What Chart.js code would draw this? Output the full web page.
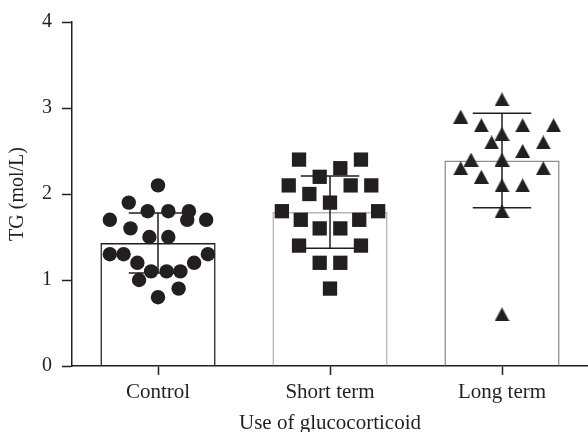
<!DOCTYPE html>
<html>
<head>
<meta charset="utf-8">
<script src="https://cdn.jsdelivr.net/npm/chart.js@4"></script>
<style>
  html, body { margin: 0; padding: 0; background: #fff; }
  #wrap { width: 588px; height: 432px; }
</style>
</head>
<body>
<div id="wrap"><canvas id="tgChart"></canvas></div>
<script>
// groups and summary values
const groups = ['Control', 'Short term', 'Long term'];
const means = [1.43, 1.79, 2.39];
const sds = [0.35, 0.42, 0.55];
const yTicks = [0, 1, 2, 3, 4];

// individual values per group, with their horizontal spread (in category widths)
const controlValues = [2.1, 1.9, 1.8, 1.8, 1.8, 1.7, 1.7, 1.7, 1.6, 1.5, 1.5, 1.3, 1.3, 1.3, 1.2, 1.2, 1.1, 1.1, 1.1, 1.0, 0.9, 0.8];
const controlSpread = [0, -0.17, -0.06, 0.06, 0.18, -0.28, 0.17, 0.28, -0.16, -0.05, 0.06, -0.28, -0.2, 0.29, -0.12, 0.21, -0.04, 0.05, 0.13, -0.11, 0.12, 0];
const shortValues = [2.4, 2.4, 2.3, 2.2, 2.1, 2.1, 2.1, 2.0, 1.9, 1.8, 1.8, 1.7, 1.7, 1.6, 1.6, 1.4, 1.4, 1.2, 1.2, 0.9];
const shortSpread = [-0.18, 0.18, 0.06, -0.06, -0.24, 0.12, 0.24, -0.12, 0, -0.28, 0.28, -0.17, 0.17, -0.06, 0.06, -0.18, 0.18, -0.06, 0.06, 0];
const longValues = [3.1, 2.9, 2.8, 2.8, 2.8, 2.7, 2.6, 2.6, 2.5, 2.4, 2.4, 2.3, 2.3, 2.2, 2.1, 2.1, 1.8, 0.6];
const longSpread = [0, -0.24, -0.12, 0.12, 0.3, 0, -0.06, 0.24, 0.12, -0.18, 0, -0.24, 0.24, -0.12, 0, 0.12, 0, 0];

const ink = '#231f20';
const fontFamily = '"Liberation Serif", "DejaVu Serif", serif';

const toPoints = (values, spread, idx) => values.map((v, i) => ({ x: idx + spread[i], y: v }));

// GraphPad style triangle, centred on its box
const triangle = document.createElement('canvas');
triangle.width = 15;
triangle.height = 14;
(() => {
    const c = triangle.getContext('2d');
    c.fillStyle = ink;
    c.beginPath();
    c.moveTo(0, 14);
    c.lineTo(7.5, 0);
    c.lineTo(15, 14);
    c.closePath();
    c.fill();
})();

// mean +/- SD, drawn after the bars and under the dots
const errorBars = {
    id: 'errorBars',
    afterDatasetDraw(chart, args) {
        if (args.index !== 0) return;
        const ctx = chart.ctx;
        const xs = chart.scales.x2;
        const ys = chart.scales.y;
        ctx.save();
        ctx.strokeStyle = ink;
        ctx.lineWidth = 1.5;
        means.forEach((m, i) => {
            const cx = xs.getPixelForValue(i);
            const left = xs.getPixelForValue(i - 0.17);
            const right = xs.getPixelForValue(i + 0.17);
            const hi = ys.getPixelForValue(m + sds[i]);
            const lo = ys.getPixelForValue(m - sds[i]);
            ctx.beginPath();
            ctx.moveTo(cx, hi); ctx.lineTo(cx, lo);
            ctx.moveTo(left, hi); ctx.lineTo(right, hi);
            ctx.moveTo(left, lo); ctx.lineTo(right, lo);
            ctx.stroke();
        });
        ctx.restore();
    }
};

const dotStyle = {
    xAxisID: 'x2',
    backgroundColor: ink,
    borderWidth: 0,
    order: 1
};

new Chart(document.getElementById('tgChart').getContext('2d'), {
    type: 'bar',
    data: {
        labels: groups,
        datasets: [{
            data: means,
            backgroundColor: 'rgba(255,255,255,0)',
            borderColor: [ink, '#b5b5b5', '#8e8e8e'],
            borderWidth: 1.5,
            grouped: false,
            categoryPercentage: 1,
            barPercentage: 0.67,
            order: 2
        }, {
            ...dotStyle,
            type: 'scatter',
            data: toPoints(controlValues, controlSpread, 0),
            pointStyle: 'circle',
            pointRadius: 7.2
        }, {
            ...dotStyle,
            type: 'scatter',
            data: toPoints(shortValues, shortSpread, 1),
            pointStyle: 'rect',
            pointRadius: 10.1
        }, {
            ...dotStyle,
            type: 'scatter',
            data: toPoints(longValues, longSpread, 2),
            pointStyle: triangle,
            pointRadius: 7
        }]
    },
    options: {
        responsive: true,
        maintainAspectRatio: false,
        animation: false,
        layout: { autoPadding: false, padding: { top: 22, right: 0, left: 0, bottom: 0 } },
        plugins: {
            legend: { display: false },
            tooltip: { enabled: false }
        },
        scales: {
            x: {
                type: 'category',
                offset: true,
                grid: { display: true, drawOnChartArea: false, offset: false, tickLength: 9, tickWidth: 1.5, tickColor: ink },
                border: { display: true, color: ink, width: 1.5 },
                ticks: { color: ink, padding: 5, font: { family: fontFamily, size: 21 } },
                title: {
                    display: true,
                    text: 'Use of glucocorticoid',
                    color: ink,
                    padding: 0,
                    font: { family: fontFamily, size: 21, lineHeight: 0.8 }
                },
                afterFit(scale) { scale.height = 66; }
            },
            x2: {
                type: 'linear',
                display: false,
                offset: false,
                min: -0.5,
                max: 2.5
            },
            y: {
                min: 0,
                max: 4,
                afterBuildTicks(scale) { scale.ticks = yTicks.map(v => ({ value: v })); },
                grid: { display: true, drawOnChartArea: false, tickLength: 10, tickWidth: 1.5, tickColor: ink },
                border: { display: true, color: ink, width: 1.5 },
                ticks: { color: ink, padding: 10, font: { family: fontFamily, size: 20 } },
                title: {
                    display: true,
                    text: 'TG (mol/L)',
                    color: ink,
                    padding: { top: 6, bottom: 0 },
                    font: { family: fontFamily, size: 20 }
                },
                afterFit(scale) { scale.width = 72; }
            }
        }
    },
    plugins: [errorBars]
});
</script>
</body>
</html>
